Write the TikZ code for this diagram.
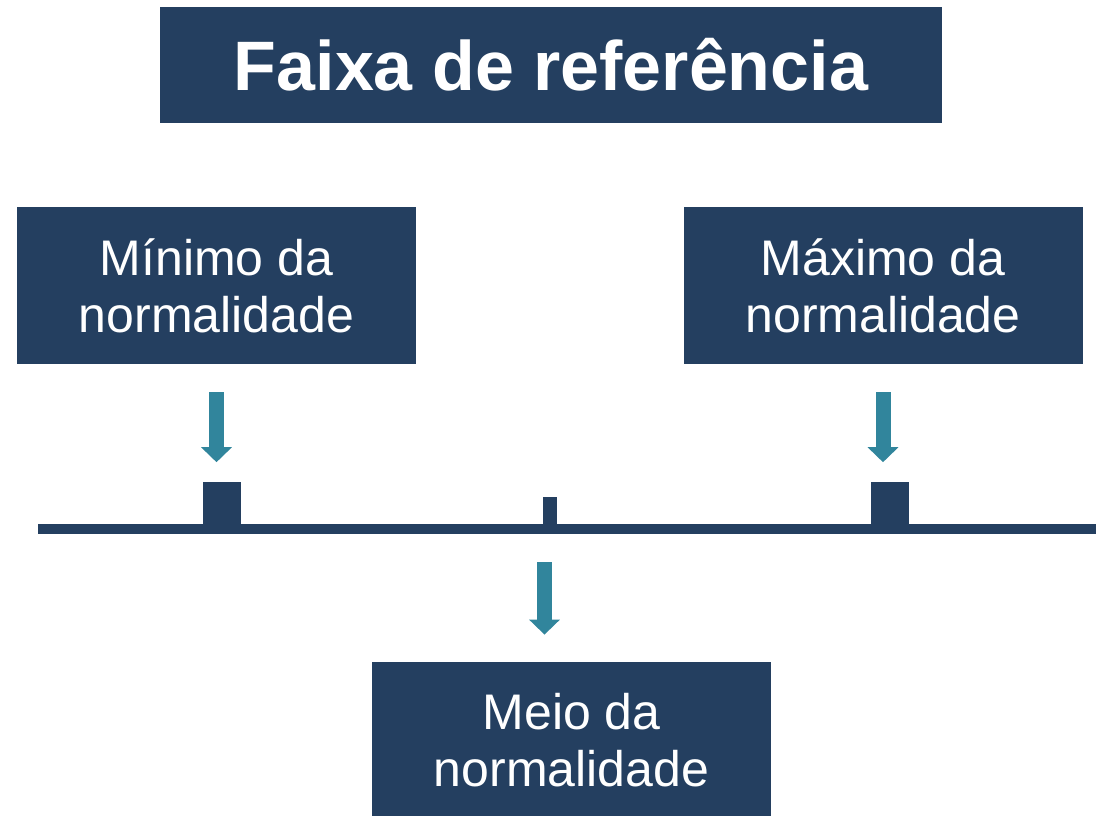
\documentclass[tikz,border=0pt]{standalone}
\usepackage{fontspec}
\setmainfont{Liberation Sans}
\usetikzlibrary{arrows.meta}
\usetikzlibrary{positioning}
\definecolor{navy}{HTML}{243F60}
\definecolor{arrowteal}{HTML}{31859C}

\begin{document}
\begin{tikzpicture}[x=0.5pt,y=-0.5pt]
      \tikzstyle{every node}=[fill=navy,text=white,inner sep=0pt,align=center]
      \tikzstyle{labelbox}=[minimum width=199.5pt,minimum height=78.5pt,font=\fontsize{25}{28.5}\selectfont]
      \tikzstyle{bigtick}=[anchor=south,minimum width=19pt,minimum height=23.5pt]
      \tikzstyle{pointer}=[draw=arrowteal,line width=7.5pt,-{Triangle[width=15pt,length=7.5pt]}]
      \useasboundingbox (0,0) rectangle (1096,815);

      \node[minimum width=391pt,minimum height=58pt,font=\fontsize{35}{42}\selectfont\bfseries] (title) at (551,65) {Faixa de referência};
      \node[labelbox] (lmin) at (216.5,285.5) {Mínimo da\\normalidade};
      \node[labelbox] (lmax) at (883,285.5)   {Máximo da\\normalidade};
      \node[labelbox] (lmid) at (571.5,740.5) {Meio da\\normalidade};

      % axis with its marks
      \draw[navy,line width=5pt] (38,529) -- (1096,529);
      \node[bigtick] (ltick) at (222,529) {};
      \node[bigtick] (rtick) at (890,529) {};
      \node[anchor=south,minimum width=7pt,minimum height=16pt] (mtick) at (550,529) {};

      \draw[pointer,shorten <=14pt,shorten >=9.5pt] (lmin.south) -- (lmin.south |- ltick.north);
      \draw[pointer,shorten <=14pt,shorten >=9.5pt] (lmax.south) -- (lmax.south |- rtick.north);
      \draw[pointer,shorten <=16.5pt,shorten >=13.5pt] ([xshift=-2.75pt]mtick.south) -- ([xshift=-2.75pt]mtick.south |- lmid.north);
\end{tikzpicture}
\end{document}
